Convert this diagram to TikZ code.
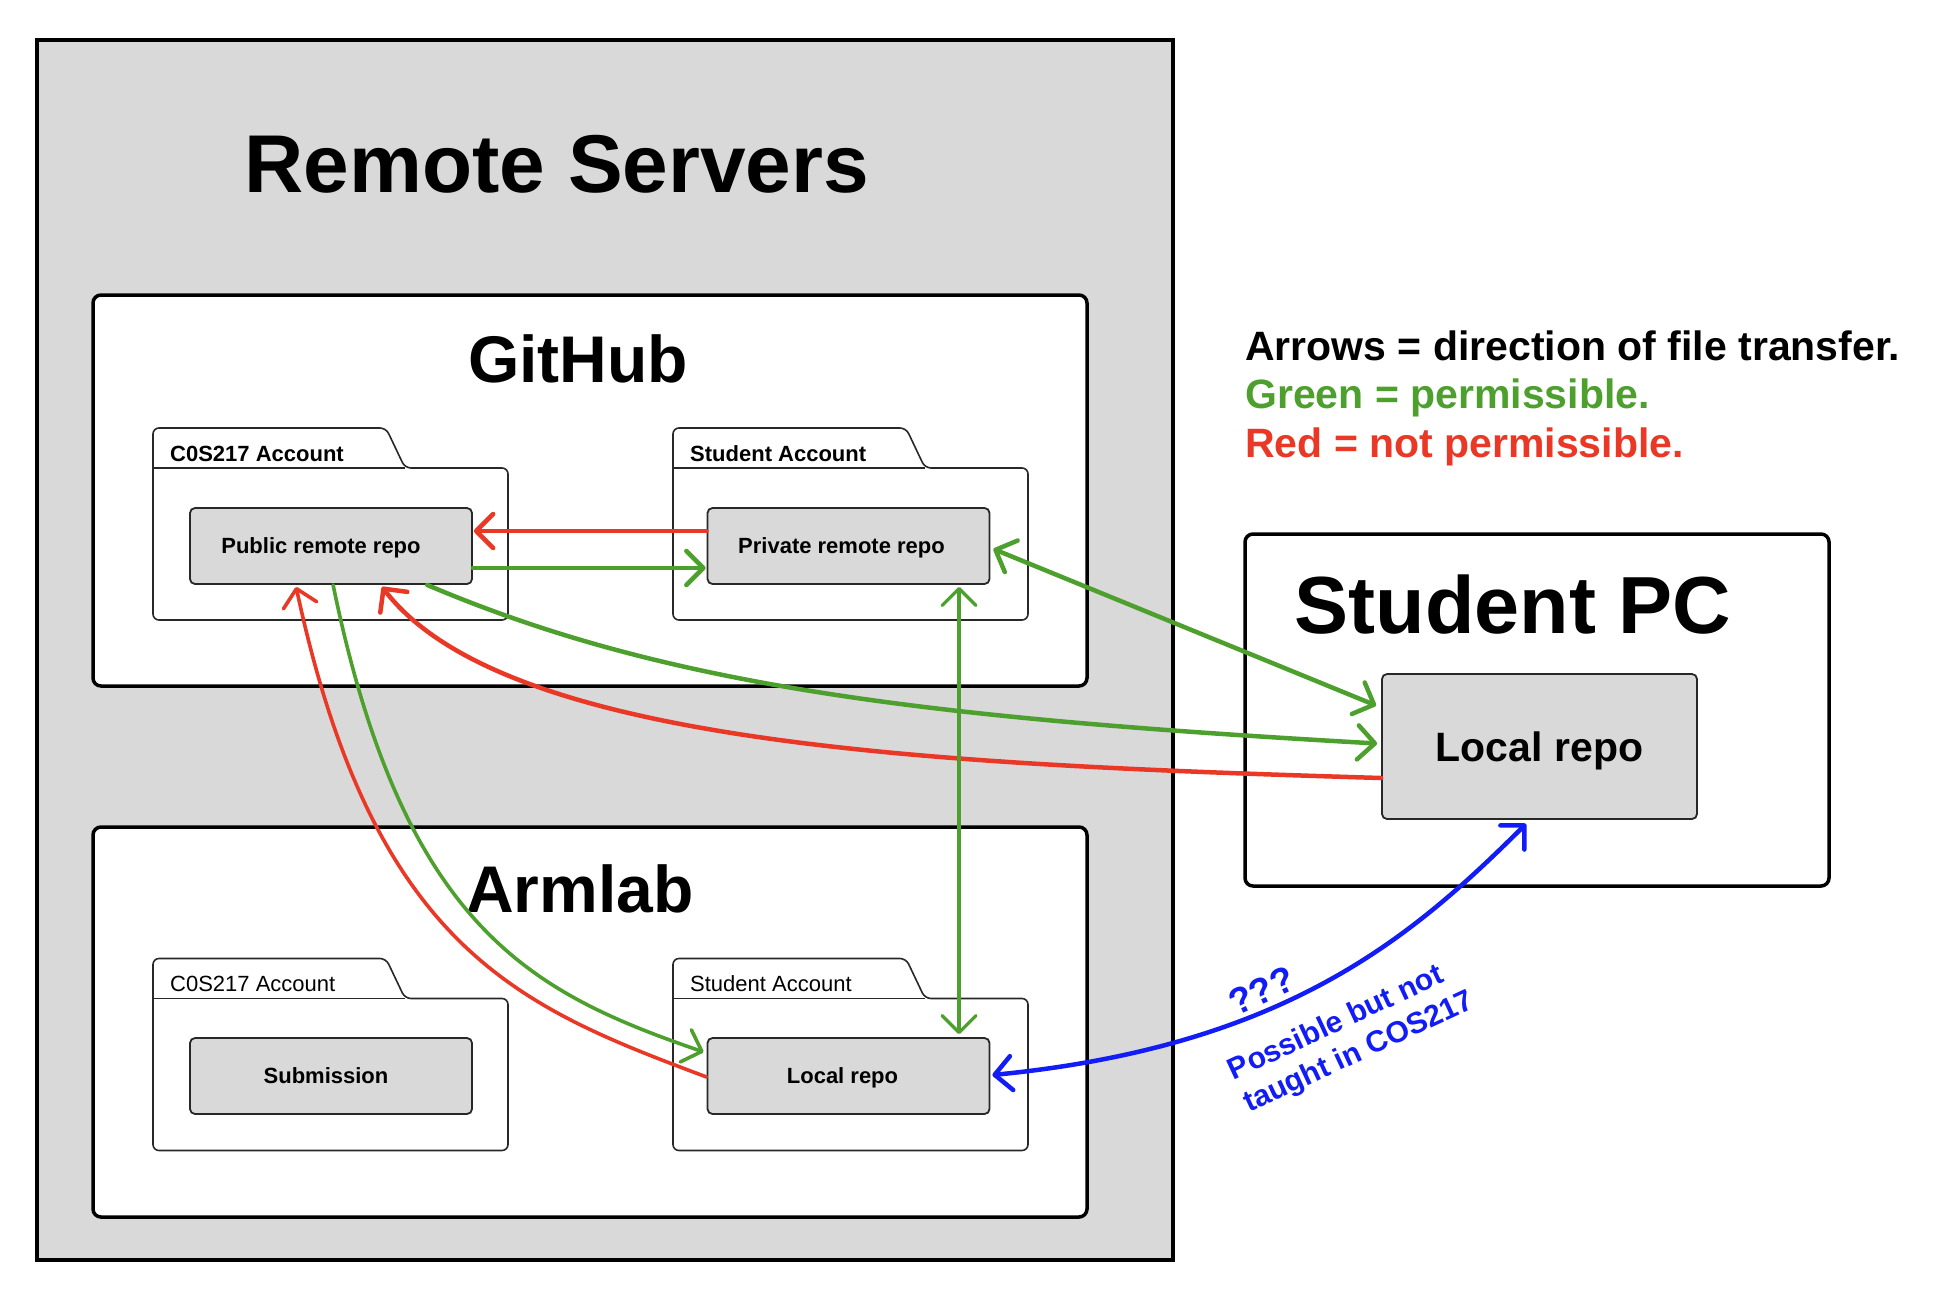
\documentclass[tikz,border=0pt]{standalone}
\usepackage{fontspec}
\setmainfont{Liberation Sans}
\usetikzlibrary{arrows.meta,calc}
\definecolor{grn}{RGB}{78,160,46}
\definecolor{rd}{RGB}{233,56,38}
\definecolor{blu}{RGB}{18,28,246}
\definecolor{gry}{RGB}{217,217,217}
\definecolor{edgec}{RGB}{40,40,40}
\newcommand{\fsz}[2]{\fontsize{#1}{#2}\selectfont}
\newcommand{\folderat}[2]{%
  \draw[folder] (#1,#2+40) -- (#1,#2) -- (#1+233,#2) -- (#1+252,#2+40) -- (#1+355,#2+40) -- (#1+355,#2+192) -- (#1,#2+192) -- cycle;
  \draw[edgec, line width=1.6pt] (#1,#2+40) -- (#1+252,#2+40);}
\begin{document}
\begin{tikzpicture}[x=1pt,y=-1pt,
  >={Straight Barb[length=17pt,width=34pt,round]},
  repo/.style={draw=edgec, line width=1.8pt, fill=gry, rounded corners=5pt, minimum width=282pt, minimum height=76pt, inner sep=0pt, text height=15.8pt, text depth=0pt, font=\fsz{22}{26}\bfseries},
  lbl/.style={anchor=base west, inner sep=0pt, font=\fsz{22}{26}},
  folder/.style={draw=edgec, line width=1.6pt, fill=white, rounded corners=6pt},
  panel/.style={draw=black, line width=3.5pt, fill=white, rounded corners=8pt},
  title/.style={anchor=base, inner sep=0pt, font=\fsz{66}{80}\bfseries},
  legend/.style={anchor=base west, inner sep=0pt, font=\fsz{41}{49}\bfseries},
  conn/.style={line width=4.5pt, line cap=round},
  thinconn/.style={line width=3.6pt, line cap=round}]

\useasboundingbox (0,0) rectangle (1946,1310);

% Remote servers
\draw[line width=4pt, fill=gry] (37,40) rectangle (1173,1260);
\node[title, font=\fsz{82}{98}\bfseries] (rs) at (557,192) {Remote Servers};

% GitHub
\draw[panel] (93,295) rectangle (1087,686);
\node[title] (gh) at (578,382) {GitHub};
\folderat{153}{428}
\folderat{673}{428}
\node[lbl, font=\fsz{22}{26}\bfseries] (ghc) at (170,461) {C0S217 Account};
\node[lbl, font=\fsz{22}{26}\bfseries] (ghs) at (690,461) {Student Account};
\node[repo] (pub) at (331,546) {Public remote repo\kern20pt};
\node[repo] (priv) at (848.5,546) {Private remote repo\kern14pt};

% Armlab
\draw[panel] (93,827) rectangle (1087,1217);
\node[title] (al) at (580,912) {Armlab};
\folderat{153}{958.5}
\folderat{673}{958.5}
\node[lbl] (alc) at (170,991.5) {C0S217 Account};
\node[lbl] (als) at (690,991.5) {Student Account};
\node[repo] (sub) at (331,1076) {Submission\kern10pt};
\node[repo] (alocal) at (848.5,1076) {Local repo\kern12pt};

% Student PC
\draw[panel] (1245,534) rectangle (1829,886);
\node[title, font=\fsz{81}{97}\bfseries] (pc) at (1513,633) {Student PC};
\node[repo, minimum width=315pt, minimum height=145pt, text height=29.4pt, font=\fsz{41}{49}\bfseries] (pclocal) at (1539.5,746.5) {Local repo};

% Legend
\node[legend] (lg1) at (1245,360) {Arrows = direction of file transfer.};
\node[legend, text=grn] (lg2) at (1245,408) {Green = permissible.};
\node[legend, text=rd] (lg3) at (1245,457) {Red = not permissible.};

% Connectors
\draw[conn, rd, ->] ($(priv.west)+(0,-15)$) -- ($(pub.east)+(1,-15)$);
\draw[conn, grn, ->] ($(pub.east)+(0,22)$) -- ($(priv.west)+(-1,22)$);
\draw[conn, grn, <->] ($(priv.east)+(3,3)$) -- ($(pclocal.west)+(-5,-41)$);
\draw[conn, grn, ->] ($(pub.south west)+(238,0)$) .. controls (667,687) and (927,718) .. ($(pclocal.west)+(-4,-3)$);
\draw[conn, rd, ->] ($(pclocal.west)+(0,31.5)$) .. controls (932,764.5) and (503,745) .. ($(pub.south west)+(193,2)$);
\draw[thinconn, grn, ->] ($(pub.south west)+(144,0)$) .. controls (404,930) and (533,993) .. ($(alocal.west)+(-3,-24)$);
\draw[thinconn, rd, ->] ($(alocal.west)+(0,1)$) .. controls (520,1007) and (374,950) .. ($(pub.south west)+(107,2)$);
\draw[thinconn, grn, line width=3.2pt, <->] ($(priv.south)+(110.5,2)$) -- ($(alocal.north)+(110.5,-3)$);
\draw[conn, blu, <->] ($(alocal.east)+(2,-1)$) .. controls (1287.5,1046) and (1413,936) .. ($(pclocal.south)+(-13.5,4)$);

% Blue note
\node[anchor=base west, rotate=25, inner sep=0pt, text=blu, font=\fsz{37}{44}\bfseries] (qq) at (1236,1017) {???};
\node[anchor=base west, rotate=25, inner sep=0pt, align=left, text=blu, font=\fsz{30}{36}\bfseries] (note) at (1249,1113) {Possible but not\\taught in COS217};
\end{tikzpicture}
\end{document}
